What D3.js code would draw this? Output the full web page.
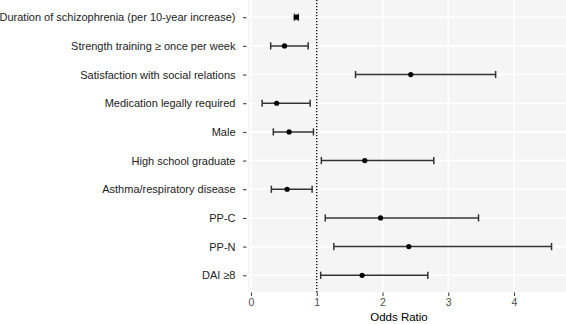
<!DOCTYPE html>
<meta charset="utf-8">
<style>
body { margin: 0; background: #fff; }
svg { font-family: "Liberation Sans", Arial, sans-serif; }
</style>
<body>
<script src="https://d3js.org/d3.v7.min.js"></script>
<script>

// predictors, top to bottom
var labels = [
  "Duration of schizophrenia (per 10-year increase)",
  "Strength training \u2265 once per week",
  "Satisfaction with social relations",
  "Medication legally required",
  "Male",
  "High school graduate",
  "Asthma/respiratory disease",
  "PP-C",
  "PP-N",
  "DAI \u22658"
];
var oddsRatio = [0.69, 0.51, 2.43, 0.39, 0.58, 1.73, 0.55, 1.97, 2.40, 1.69];
var lower     = [0.66, 0.30, 1.59, 0.17, 0.34, 1.07, 0.31, 1.13, 1.26, 1.06];
var upper     = [0.72, 0.87, 3.72, 0.90, 0.95, 2.78, 0.93, 3.46, 4.57, 2.69];
var xTicks = [0, 1, 2, 3, 4];

var W = 566, H = 324;
var panel = {left: 248, right: 566, top: 0, bottom: 292.5};

var data = labels.map(function(d, i) {
  return {label: d, or: oddsRatio[i], lo: lower[i], hi: upper[i]};
});

var svg = d3.select("body").append("svg")
    .attr("width", W)
    .attr("height", H);

var x = d3.scaleLinear()
    .domain([-0.045, 4.79])
    .range([panel.left, panel.right]);

var y = d3.scalePoint()
    .domain(labels)
    .range([panel.top, panel.bottom])
    .padding(0.6);

// panel background
svg.append("rect")
    .attr("x", panel.left)
    .attr("y", panel.top)
    .attr("width", panel.right - panel.left)
    .attr("height", panel.bottom - panel.top)
    .attr("fill", "#f5f5f5");

// grid lines
svg.append("g").selectAll("line")
    .data(xTicks)
  .join("line")
    .attr("x1", function(d) { return x(d); })
    .attr("x2", function(d) { return x(d); })
    .attr("y1", panel.top)
    .attr("y2", panel.bottom)
    .attr("stroke", "#fff")
    .attr("stroke-width", 1.6);

svg.append("g").selectAll("line")
    .data(labels)
  .join("line")
    .attr("x1", panel.left)
    .attr("x2", panel.right)
    .attr("y1", function(d) { return y(d); })
    .attr("y2", function(d) { return y(d); })
    .attr("stroke", "#fff")
    .attr("stroke-width", 1.6);

// reference line at OR = 1
svg.append("line")
    .attr("x1", x(1))
    .attr("x2", x(1))
    .attr("y1", panel.top)
    .attr("y2", panel.bottom)
    .attr("stroke", "#000")
    .attr("stroke-width", 1.3)
    .attr("stroke-dasharray", "1.3,1.7");

// error bars
var bars = svg.append("g").selectAll("g")
    .data(data)
  .join("g")
    .attr("stroke", "#333")
    .attr("stroke-width", 1.5);

bars.append("line")
    .attr("x1", function(d) { return x(d.lo); })
    .attr("x2", function(d) { return x(d.hi); })
    .attr("y1", function(d) { return y(d.label); })
    .attr("y2", function(d) { return y(d.label); });

bars.selectAll("line.cap")
    .data(function(d) { return [{v: d.lo, l: d.label}, {v: d.hi, l: d.label}]; })
  .join("line")
    .attr("class", "cap")
    .attr("x1", function(d) { return x(d.v); })
    .attr("x2", function(d) { return x(d.v); })
    .attr("y1", function(d) { return y(d.l) - 3.6; })
    .attr("y2", function(d) { return y(d.l) + 3.6; });

// point estimates
svg.append("g").selectAll("circle")
    .data(data)
  .join("circle")
    .attr("cx", function(d) { return x(d.or); })
    .attr("cy", function(d) { return y(d.label); })
    .attr("r", 2.6)
    .attr("fill", "#000");

// x axis
var xAxis = svg.append("g")
    .attr("transform", "translate(0," + panel.bottom + ")")
    .call(d3.axisBottom(x).tickValues(xTicks).tickSize(3.5).tickPadding(2.5).tickFormat(d3.format("d")));
xAxis.select(".domain").remove();
xAxis.selectAll("line").attr("stroke", "#333").attr("stroke-width", 1);
xAxis.selectAll("text").attr("fill", "#4d4d4d").attr("font-size", 10.5).attr("font-family", null);

// y axis
var yAxis = svg.append("g")
    .attr("transform", "translate(" + panel.left + ",0)")
    .call(d3.axisLeft(y).tickSize(3.5).tickPadding(9));
yAxis.select(".domain").remove();
yAxis.selectAll("line").attr("stroke", "#333").attr("stroke-width", 1)
    .attr("transform", "translate(-1.5,0)");
yAxis.selectAll("text").attr("fill", "#222").attr("font-size", 11).attr("font-family", null);

// axis title
svg.append("text")
    .attr("x", 399)
    .attr("y", 321)
    .attr("text-anchor", "middle")
    .attr("font-size", 11.5)
    .attr("fill", "#000")
    .text("Odds Ratio");

</script>
</body>
